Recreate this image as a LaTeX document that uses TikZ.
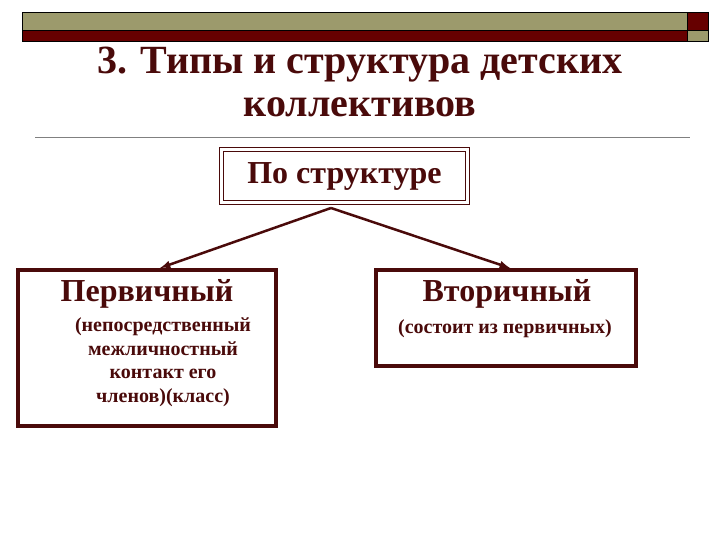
\documentclass[tikz,border=0pt]{standalone}
\usepackage{fontspec}
\setmainfont{Liberation Serif}
\begin{document}
\begin{tikzpicture}[x=1pt,y=-1pt,
  dr/.style={draw=boxred,line width=4pt},
  txt/.style={text=boxred,font=\bfseries,align=center,inner sep=0pt}]
\definecolor{boxred}{HTML}{4A0A0A}
\definecolor{barred}{HTML}{660000}
\definecolor{bargray}{HTML}{9C9A6C}
\useasboundingbox (0,0) rectangle (720,540);
\fill[white] (0,0) rectangle (720,540);
\filldraw[fill=bargray,draw=black,line width=0.6pt] (22,12) rectangle (687,30);
\filldraw[fill=barred,draw=black,line width=0.6pt] (22,30) rectangle (687,41);
\filldraw[fill=barred,draw=black,line width=0.6pt] (687,12) rectangle (708,30);
\filldraw[fill=bargray,draw=black,line width=0.6pt] (687,30) rectangle (708,41);
\node[txt,font=\fontsize{40}{43}\selectfont\bfseries] (title) at (360,82) {3. Типы и структура детских\\коллективов};
\draw[gray,line width=0.6pt] (35,137) -- (690,137);
\node[draw=boxred,line width=1.5pt,double=white,double distance=2.5pt,minimum width=246pt,minimum height=53pt,text=boxred,font=\fontsize{32}{36}\selectfont\bfseries] (s) at (344.5,176) {По структуре};
\node[dr,minimum width=258pt,minimum height=156pt] (L) at (146.5,347.5) {};
\node[dr,minimum width=260pt,minimum height=96pt] (R) at (505.5,317.5) {};
\coordinate (a) at (331,208);
\draw[boxred,line width=2.5pt,-latex] (a) -- (160,268);
\draw[boxred,line width=2.5pt,-latex] (a) -- (510,268);
\node[txt,font=\fontsize{32}{36}\selectfont\bfseries] (l1) at (147,294) {Первичный};
\node[txt,font=\fontsize{20}{23.5}\selectfont\bfseries] (l2) at (163,362) {(непосредственный\\межличностный\\контакт его\\членов)(класс)};
\node[txt,font=\fontsize{32}{36}\selectfont\bfseries] (r1) at (507,294) {Вторичный};
\node[txt,font=\fontsize{20}{24}\selectfont\bfseries] (r2) at (505,329) {(состоит из первичных)};
\end{tikzpicture}
\end{document}
